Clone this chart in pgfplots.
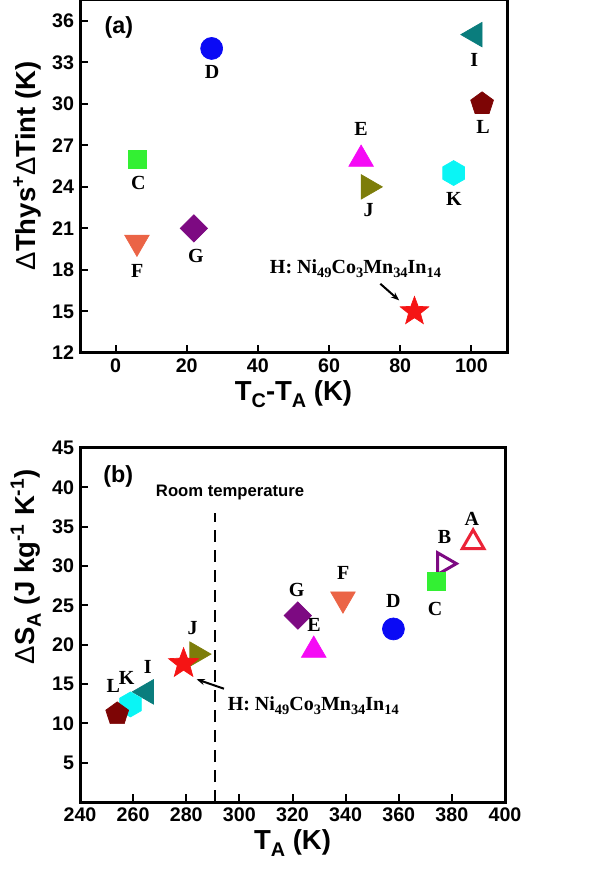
\documentclass[border=0pt]{standalone}
\usepackage{fontspec}
\setmainfont{Liberation Sans}
\newfontfamily\tnr{Liberation Serif}
\usepackage{pgfplots}
\pgfplotsset{compat=1.18}
\usetikzlibrary{arrows.meta}

\definecolor{cgreen}{HTML}{33F033}
\definecolor{cblue}{HTML}{0A0AF5}
\definecolor{cmag}{HTML}{F50AF5}
\definecolor{corange}{HTML}{EB6446}
\definecolor{cpurple}{HTML}{7D0A82}
\definecolor{cred}{HTML}{F51414}
\definecolor{cteal}{HTML}{0A7D7D}
\definecolor{colive}{HTML}{7D7D0A}
\definecolor{ccyan}{HTML}{0AF5F5}
\definecolor{cdred}{HTML}{7D0505}
\definecolor{cAred}{HTML}{EB2337}

% lowered subscript, a bit larger than \textsubscript
\newcommand{\lo}[1]{\raisebox{-0.45ex}{\scalebox{0.72}{#1}}}

% filled hexagon, point up
\pgfdeclareplotmark{hexagon*}{%
  \pgfpathmoveto{\pgfpointpolar{90}{\pgfplotmarksize}}%
  \pgfpathlineto{\pgfpointpolar{150}{\pgfplotmarksize}}%
  \pgfpathlineto{\pgfpointpolar{210}{\pgfplotmarksize}}%
  \pgfpathlineto{\pgfpointpolar{270}{\pgfplotmarksize}}%
  \pgfpathlineto{\pgfpointpolar{330}{\pgfplotmarksize}}%
  \pgfpathlineto{\pgfpointpolar{30}{\pgfplotmarksize}}%
  \pgfpathclose\pgfusepathqfillstroke}
% filled five-pointed star
\pgfdeclareplotmark{fstar}{%
  \pgfpathmoveto{\pgfpointpolar{90}{\pgfplotmarksize}}%
  \pgfpathlineto{\pgfpointpolar{126}{0.42\pgfplotmarksize}}%
  \pgfpathlineto{\pgfpointpolar{162}{\pgfplotmarksize}}%
  \pgfpathlineto{\pgfpointpolar{198}{0.42\pgfplotmarksize}}%
  \pgfpathlineto{\pgfpointpolar{234}{\pgfplotmarksize}}%
  \pgfpathlineto{\pgfpointpolar{270}{0.42\pgfplotmarksize}}%
  \pgfpathlineto{\pgfpointpolar{306}{\pgfplotmarksize}}%
  \pgfpathlineto{\pgfpointpolar{342}{0.42\pgfplotmarksize}}%
  \pgfpathlineto{\pgfpointpolar{18}{\pgfplotmarksize}}%
  \pgfpathlineto{\pgfpointpolar{54}{0.42\pgfplotmarksize}}%
  \pgfpathclose\pgfusepathqfillstroke}

\pgfplotsset{
  panel/.style={
    scale only axis, clip=false,
    axis line style={line width=1.8pt},
    tick style={line width=1.2pt, black},
    major tick length=5pt,
    tick align=inside,
    tick pos=left,
    /pgf/number format/assume math mode=true,
    ticklabel style={font=\bfseries\fontsize{11.8}{12}\selectfont},
    label style={font=\bfseries\fontsize{16.5}{17}\selectfont},
  },
  mk/.style={only marks, mark options={solid, line width=0.4pt}},
  mA/.style={mk, mark=triangle, mark size=7.5pt, color=cAred, mark options={line width=1.8pt, fill=white}},
  mB/.style={mk, mark=triangle, mark size=7.5pt, color=cpurple, mark options={line width=1.8pt, fill=white, rotate=-90}},
  mC/.style={mk, mark=square*, mark size=5.4pt, color=cgreen},
  mD/.style={mk, mark=*, mark size=6.6pt, color=cblue},
  mE/.style={mk, mark=triangle*, mark size=8.5pt, color=cmag},
  mF/.style={mk, mark=triangle*, mark size=8.5pt, color=corange, mark options={rotate=180}},
  mG/.style={mk, mark=square*, mark size=5.8pt, color=cpurple, mark options={rotate=45}},
  mH/.style={mk, mark=fstar, mark size=9pt, color=cred},
  mI/.style={mk, mark=triangle*, mark size=8.5pt, color=cteal, mark options={rotate=90}},
  mJ/.style={mk, mark=triangle*, mark size=8.5pt, color=colive, mark options={rotate=-90}},
  mK/.style={mk, mark=hexagon*, mark size=7.5pt, color=ccyan},
  mL/.style={mk, mark=pentagon*, mark size=7.2pt, color=cdred},
}
\tikzset{lab/.style={font=\tnr\bfseries\fontsize{12}{12}\selectfont, inner sep=0pt},
  tag/.style={font=\bfseries\fontsize{14}{14}\selectfont, inner sep=0pt}}

\begin{document}
\begin{tikzpicture}
\useasboundingbox (0,0) rectangle (353.4pt,525pt);

% (a)
\begin{axis}[panel, at={(48pt,313.2pt)}, anchor=south west,
  width=256.2pt, height=211.8pt,
  xmin=-10, xmax=110, ymin=12, ymax=37.5,
  xtick={0,20,...,100}, ytick={12,15,...,36},
  xlabel={T\lo{C}-T\lo{A} (K)},
  ylabel={{\mdseries Δ}Thys\textsuperscript{+}{\mdseries Δ}Tint (K)},
  xlabel style={yshift=2pt},
  ylabel style={at={(ticklabel cs:0.53)}},
]
\addplot[mC] coordinates {(6,26)};
\addplot[mD] coordinates {(27,34)};
\addplot[mE] coordinates {(69,26)};
\addplot[mF] coordinates {(6,20)};
\addplot[mG] coordinates {(22,21)};
\addplot[mH] coordinates {(84,15)};
\addplot[mI] coordinates {(101,35)};
\addplot[mJ] coordinates {(71,24)};
\addplot[mK] coordinates {(95,25)};
\addplot[mL] coordinates {(103,30)};
\node[tag] at (axis cs:0.9,35.55) {(a)};
\node[lab] at (axis cs:27.1,32.3) {D};
\node[lab] at (axis cs:6.4,24.3) {C};
\node[lab] at (axis cs:69,28.2) {E};
\node[lab] at (axis cs:6.1,17.9) {F};
\node[lab] at (axis cs:22.6,19.0) {G};
\node[lab] at (axis cs:100.8,33.2) {I};
\node[lab] at (axis cs:103.3,28.3) {L};
\node[lab] at (axis cs:71.1,22.3) {J};
\node[lab] at (axis cs:95.1,23.1) {K};
\node[lab, anchor=west] at (axis cs:43.3,18.1) {H: Ni\lo{49}Co\lo{3}Mn\lo{34}In\lo{14}};
\draw[-{Stealth[length=5pt]}, line width=1.2pt] (axis cs:74.4,17.0) -- (axis cs:79.7,15.8);
\end{axis}

% (b)
\begin{axis}[panel, at={(48pt,43.8pt)}, anchor=south west,
  width=255pt, height=212.4pt,
  xmin=240, xmax=400, ymin=0, ymax=45,
  xtick={240,260,...,400}, ytick={5,10,...,45},
  xlabel={T\lo{A} (K)},
  ylabel={{\mdseries Δ}S\lo{A} (J kg\textsuperscript{-1} K\textsuperscript{-1})},
  xlabel style={yshift=2pt},
  ylabel style={at={(ticklabel cs:0.665)}},
]
\addplot[black, line width=1.2pt, dash pattern=on 7pt off 5pt] coordinates {(291,0) (291,36.7)};
\addplot[mA] coordinates {(388,33)};
\addplot[mB] coordinates {(377,30.3)};
\addplot[mC] coordinates {(374,28)};
\addplot[mD] coordinates {(358,22)};
\addplot[mE] coordinates {(328,19.3)};
\addplot[mF] coordinates {(339,25.8)};
\addplot[mG] coordinates {(322,23.7)};
\addplot[mJ] coordinates {(284,18.8)};
\addplot[mH, mark size=9.5pt] coordinates {(279,17.6)};
\addplot[mI] coordinates {(265,14)};
\addplot[mK] coordinates {(259,12.4)};
\addplot[mL] coordinates {(254,11.2)};
\node[tag] at (axis cs:254.4,41.4) {(b)};
\node[font=\bfseries\fontsize{10}{10}\selectfont] at (axis cs:296.5,39.4) {Room temperature};
\node[lab] at (axis cs:387.5,36.0) {A};
\node[lab] at (axis cs:377.2,33.7) {B};
\node[lab] at (axis cs:373.7,24.6) {C};
\node[lab] at (axis cs:358,25.5) {D};
\node[lab] at (axis cs:328.1,22.5) {E};
\node[lab] at (axis cs:339.1,29.1) {F};
\node[lab] at (axis cs:321.6,27.0) {G};
\node[lab] at (axis cs:282.4,22.1) {J};
\node[lab] at (axis cs:265.5,17.2) {I};
\node[lab] at (axis cs:257.6,15.8) {K};
\node[lab] at (axis cs:252.5,14.7) {L};
\node[lab, anchor=west] at (axis cs:295.5,12.2) {H: Ni\lo{49}Co\lo{3}Mn\lo{34}In\lo{14}};
\draw[-{Stealth[length=5pt]}, line width=1.2pt] (axis cs:294.2,14.4) -- (axis cs:283.9,15.6);
\end{axis}
\end{tikzpicture}
\end{document}
